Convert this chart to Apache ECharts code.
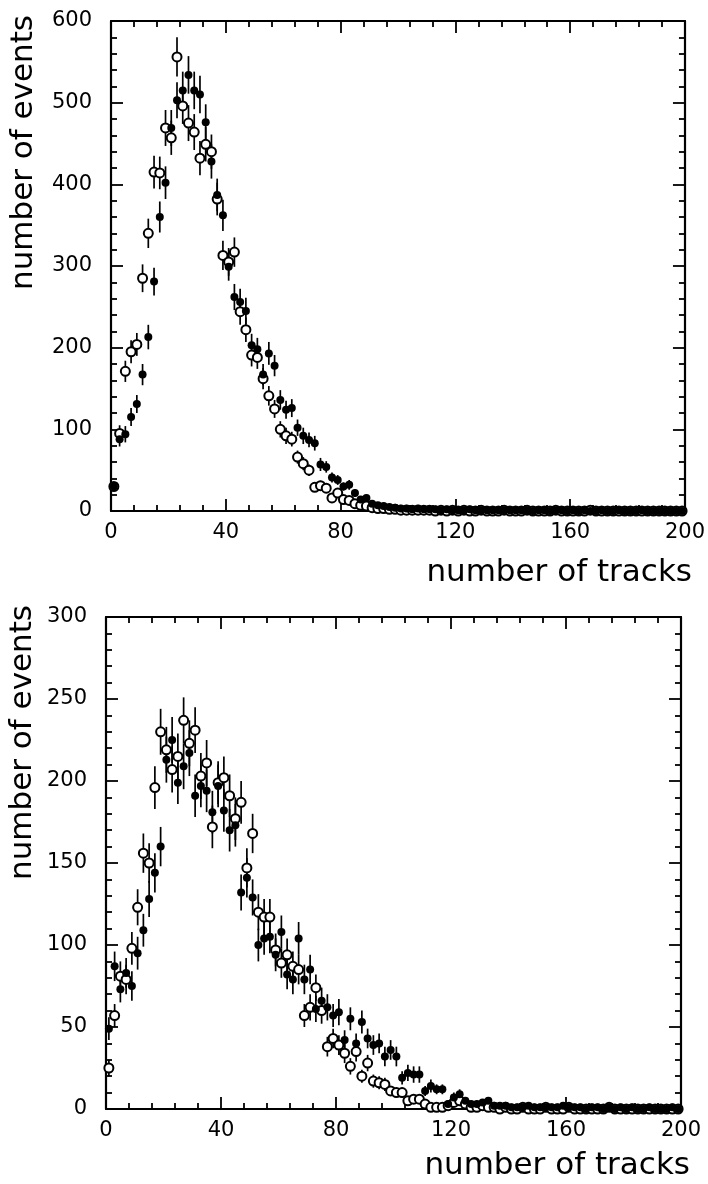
<!DOCTYPE html>
<html><head><meta charset="utf-8">
<script src="https://cdn.jsdelivr.net/npm/echarts@6/dist/echarts.min.js"></script>
<style>html,body{margin:0;padding:0;background:#fff}#c{width:708px;height:1184px}</style>
</head><body><div id="c"></div>
<script>
// bin centres (number of tracks)
const binX = [1,3,5,7,9,11,13,15,17,19,21,23,25,27,29,31,33,35,37,39,
  41,43,45,47,49,51,53,55,57,59,61,63,65,67,69,71,73,75,77,79,
  81,83,85,87,89,91,93,95,97,99,101,103,105,107,109,111,113,115,117,119,
  121,123,125,127,129,131,133,135,137,139,141,143,145,147,149,151,153,155,157,159,
  161,163,165,167,169,171,173,175,177,179,181,183,185,187,189,191,193,195,197,199];

// upper panel
const topOpenY = [30,95,171,195,204,285,340,415,414,469, 457,556,496,475,464,432,449,440,382,313,
  305,317,244,222,191,188,162,141,125,100, 92,88,66,58,50,29,31,28,16,22,
  14,13,9,7,6,4,3,3,2,2, 1,1,1,1,1,1,0,1,0,1, 0,1,0,0,1,0,0,0,1,0,
  0,0,1,0,0,0,0,1,0,0, 0,0,0,1,0,0,0,0,0,0, 0,0,0,0,0,0,0,0,0,0];
const topOpenErr = [5,10,13,14,14,17,18,20,20,22, 21,24,22,22,22,21,21,21,20,18,
  17,18,16,15,14,14,13,12,11,10, 10,9,8,8,7,5,6,5,4,5,
  4,4,3,3,2,2,2,2,1,1, 1,1,1,1,1,1,0,1,0,1, 0,1,0,0,1,0,0,0,1,0,
  0,0,1,0,0,0,0,1,0,0, 0,0,0,1,0,0,0,0,0,0, 0,0,0,0,0,0,0,0,0,0];
const topFilledY = [30,88,94,115,131,167,213,281,360,402, 469,503,515,534,515,510,476,428,387,362,
  299,262,256,245,203,198,167,193,178,136, 124,126,102,92,87,83,57,54,41,38,
  30,32,22,14,16,9,7,6,5,4, 3,3,2,3,2,2,2,1,2,1, 1,1,2,1,1,1,1,1,1,1,
  1,1,1,0,1,1,0,1,1,0, 1,0,1,0,0,1,0,0,1,0, 0,0,1,0,0,0,0,0,0,0];
const topFilledErr = [5,9,10,11,11,13,15,17,19,20, 22,22,23,23,23,23,22,21,20,19,
  17,16,16,16,14,14,13,14,13,12, 11,11,10,10,9,9,8,7,6,6,
  5,6,5,4,4,3,3,2,2,2, 2,2,1,2,1,1,1,1,1,1, 1,1,1,1,1,1,1,1,1,1,
  1,1,1,0,1,1,0,1,1,0, 1,0,1,0,0,1,0,0,1,0, 0,0,1,0,0,0,0,0,0,0];

// lower panel
const botOpenY = [25,57,81,79,98,123,156,150,196,230, 219,207,215,237,223,231,203,211,172,199,
  202,191,177,187,147,168,120,117,117,97, 89,94,87,85,57,62,74,60,38,43,
  39,34,26,35,20,28,17,16,15,11, 10,10,5,6,6,3,1,1,1,2, 4,5,3,1,1,2,1,1,0,1,
  0,0,1,0,0,0,1,0,0,0, 1,0,0,0,0,0,0,1,0,0, 0,0,0,0,0,0,0,0,0,0];
const botOpenErr = [5,7,9,9,10,11,12,12,13,14, 14,14,14,14,14,14,14,14,13,13,
  13,13,13,13,12,12,11,11,11,10, 9,10,9,9,7,8,8,8,6,6,
  6,6,5,6,4,5,4,4,4,3, 3,3,2,2,2,2,1,1,1,1, 2,2,2,1,1,1,1,1,0,1,
  0,0,1,0,0,0,1,0,0,0, 1,0,0,0,0,0,0,1,0,0, 0,0,0,0,0,0,0,0,0,0];
const botFilledY = [49,87,73,83,75,95,109,128,144,160, 213,225,199,209,217,191,197,194,181,197,
  182,170,173,132,141,129,100,104,105,94, 108,82,79,104,79,85,61,66,62,57,
  59,42,55,40,53,43,39,40,32,36, 32,19,22,21,21,11,14,12,12,3, 7,9,5,3,3,4,5,2,2,2,
  1,1,1,2,1,1,1,1,1,2, 1,1,1,0,1,1,0,1,0,1, 0,1,0,0,1,0,0,0,1,0];
const botFilledErr = [7,9,8,9,9,10,10,11,12,12, 14,14,13,14,14,13,13,13,13,13,
  13,13,13,11,12,11,10,10,10,10, 10,9,9,10,9,9,8,8,8,7,
  8,6,7,6,7,6,6,6,6,6, 6,4,5,5,5,3,4,3,3,2, 3,3,2,2,2,2,2,1,1,1,
  1,1,1,1,1,1,1,1,1,1, 1,1,1,0,1,1,0,1,0,1, 0,1,0,0,1,0,0,0,1,0];

const xAxisMax = 200, xAxisStep = 40;
const topYMax = 600, topYStep = 100;
const botYMax = 300, botYStep = 50;

const FONT = 'DejaVu Sans';
function pts(ys, es) { return binX.map((x, i) => [x, ys[i], es[i]]); }

function axisCommon(showLabel, margin) {
  return {
    axisLine: { show: true, onZero: false, lineStyle: { color: '#000', width: 2.2 } },
    axisTick: { show: true, inside: true, length: 12, lineStyle: { color: '#000', width: 1.8 } },
    minorTick: { show: true, splitNumber: 5, length: 6, lineStyle: { color: '#000', width: 1.8 } },
    axisLabel: { show: showLabel, margin: margin, fontSize: 21, color: '#000', fontFamily: FONT },
    splitLine: { show: false }, minorSplitLine: { show: false }
  };
}
function xAx(g, pos) {
  return Object.assign({ type: 'value', gridIndex: g, position: pos, min: 0, max: xAxisMax, interval: xAxisStep },
    axisCommon(pos === 'bottom', 11));
}
function yAx(g, pos, max, step) {
  return Object.assign({ type: 'value', gridIndex: g, position: pos, min: 0, max: max, interval: step },
    axisCommon(pos === 'left', 19));
}
function errSeries(data, xi, yi) {
  return {
    type: 'custom', xAxisIndex: xi, yAxisIndex: yi, data: data, clip: true, silent: true, z: 1,
    encode: { x: 0, y: 1 },
    renderItem: function (params, api) {
      const x = api.value(0), y = api.value(1), e = api.value(2);
      if (!(e > 0)) return null;
      const p1 = api.coord([x, y - e]), p2 = api.coord([x, y + e]);
      return { type: 'line', shape: { x1: p1[0], y1: p1[1], x2: p2[0], y2: p2[1] },
        style: { stroke: '#000', lineWidth: 1.7 } };
    }
  };
}
function openSeries(data, xi, yi) {
  return { type: 'scatter', xAxisIndex: xi, yAxisIndex: yi, data: data, symbol: 'circle', symbolSize: 9, z: 3,
    itemStyle: { color: '#fff', borderColor: '#000', borderWidth: 2, opacity: 1 }, silent: true };
}
function filledSeries(data, xi, yi) {
  return { type: 'scatter', xAxisIndex: xi, yAxisIndex: yi, data: data, symbol: 'circle', symbolSize: 8, z: 4,
    itemStyle: { color: '#000', opacity: 1 }, silent: true };
}

const titleFont = '31px "' + FONT + '"';
const chart = echarts.init(document.getElementById('c'), null, { renderer: 'canvas' });
chart.setOption({
  animation: false,
  backgroundColor: '#fff',
  grid: [
    { left: 111, top: 21, width: 576, height: 490 },
    { left: 106, top: 617, width: 575, height: 492 }
  ],
  xAxis: [xAx(0, 'bottom'), xAx(0, 'top'), xAx(1, 'bottom'), xAx(1, 'top')],
  yAxis: [yAx(0, 'left', topYMax, topYStep), yAx(0, 'right', topYMax, topYStep),
          yAx(1, 'left', botYMax, botYStep), yAx(1, 'right', botYMax, botYStep)],
  series: [
    errSeries(pts(topOpenY, topOpenErr), 0, 0),
    errSeries(pts(topFilledY, topFilledErr), 0, 0),
    openSeries(pts(topOpenY, topOpenErr), 0, 0),
    filledSeries(pts(topFilledY, topFilledErr), 0, 0),
    errSeries(pts(botOpenY, botOpenErr), 2, 2),
    errSeries(pts(botFilledY, botFilledErr), 2, 2),
    openSeries(pts(botOpenY, botOpenErr), 2, 2),
    filledSeries(pts(botFilledY, botFilledErr), 2, 2)
  ],
  graphic: [
    { type: 'text', x: 692, y: 573, style: { text: 'number of tracks', font: titleFont, fill: '#000', align: 'right', verticalAlign: 'middle' } },
    { type: 'text', x: 690, y: 1166, style: { text: 'number of tracks', font: titleFont, fill: '#000', align: 'right', verticalAlign: 'middle' } },
    { type: 'text', x: 24, y: 15, rotation: Math.PI / 2, style: { text: 'number of events', font: titleFont, fill: '#000', align: 'right', verticalAlign: 'middle' } },
    { type: 'text', x: 23, y: 605, rotation: Math.PI / 2, style: { text: 'number of events', font: titleFont, fill: '#000', align: 'right', verticalAlign: 'middle' } }
  ]
});
</script></body></html>
